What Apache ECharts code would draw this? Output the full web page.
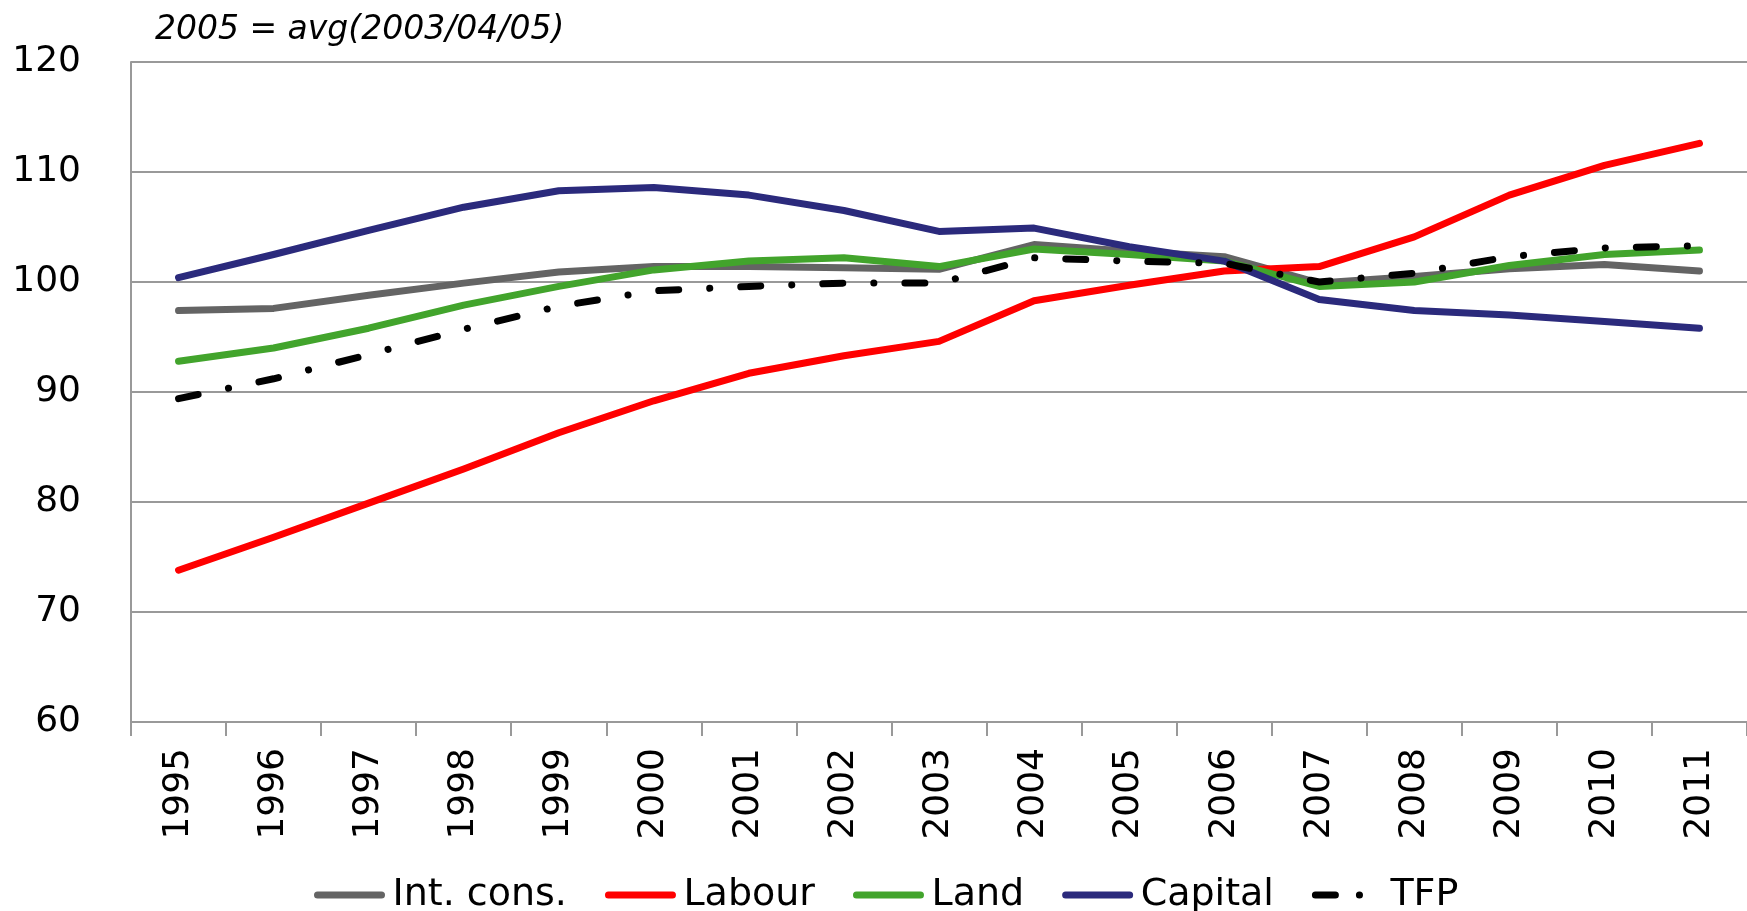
<!DOCTYPE html>
<html>
<head>
<meta charset="utf-8">
<script src="https://cdn.jsdelivr.net/npm/echarts@6/dist/echarts.min.js"></script>
<style>
  html, body { margin: 0; padding: 0; background: #fff; }
  #chart { width: 1747px; height: 911px; }
</style>
</head>
<body>
<div id="chart"></div>
<script>
// values
const years = ['1995', '1996', '1997', '1998', '1999', '2000', '2001', '2002', '2003',
  '2004', '2005', '2006', '2007', '2008', '2009', '2010', '2011'];
const intCons = [97.4, 97.6, 98.8, 99.9, 100.9, 101.4, 101.4, 101.3, 101.15, 103.4, 102.8, 102.3, 99.9, 100.5, 101.2, 101.6, 101.0];
const labour = [73.8, 76.8, 79.9, 83.0, 86.3, 89.2, 91.7, 93.3, 94.6, 98.3, 99.7, 101.0, 101.4, 104.1, 107.9, 110.6, 112.6];
const land = [92.8, 94.0, 95.8, 97.9, 99.6, 101.1, 101.9, 102.2, 101.4, 103.0, 102.5, 101.9, 99.6, 100.0, 101.5, 102.5, 102.9];
const capital = [100.4, 102.5, 104.7, 106.8, 108.3, 108.6, 107.9, 106.5, 104.6, 104.9, 103.2, 101.9, 98.4, 97.4, 97.0, 96.4, 95.8];
const tfp = [89.4, 91.2, 93.4, 95.7, 97.8, 99.2, 99.6, 99.9, 99.9, 102.2, 101.9, 101.7, 100.0, 100.8, 102.3, 103.1, 103.3];

const font = 'DejaVu Sans';
const gridGray = '#999999';
const tfpDash = [20, 31, 0.1, 31];

function line(name, data, color, extra) {
  return Object.assign({
    name: name,
    type: 'line',
    data: data,
    symbol: 'none',
    lineStyle: { color: color, width: 7, cap: 'round', join: 'round' },
    itemStyle: { color: color }
  }, extra || {});
}

const chart = echarts.init(document.getElementById('chart'));
chart.setOption({
  animation: false,
  backgroundColor: '#ffffff',
  title: {
    text: '2005 = avg(2003/04/05)',
    left: 150,
    top: 9,
    textStyle: {
      fontFamily: font,
      fontStyle: 'italic',
      fontWeight: 'normal',
      fontSize: 33,
      color: '#000'
    }
  },
  legend: {
    left: 309,
    top: 871,
    itemWidth: 64,
    itemHeight: 14,
    itemGap: 38,
    itemStyle: { opacity: 0 },
    lineStyle: { width: 7, cap: 'round' },
    textStyle: { fontFamily: font, fontSize: 38, color: '#000', padding: [0, 0, 0, 6] },
    data: [
      { name: 'Int. cons.' },
      { name: 'Labour' },
      { name: 'Land' },
      { name: 'Capital' },
      { name: 'TFP', lineStyle: { width: 7, cap: 'round', type: [20, 24, 0.1, 30] } }
    ]
  },
  grid: {
    left: 131,
    top: 62,
    right: -7,
    bottom: 189,
    containLabel: false
  },
  xAxis: {
    type: 'category',
    data: years,
    boundaryGap: true,
    axisLine: { lineStyle: { color: gridGray, width: 2 } },
    axisTick: { show: true, length: 14, lineStyle: { color: gridGray, width: 2 } },
    axisLabel: {
      rotate: 90,
      margin: 26,
      fontFamily: font,
      fontSize: 36,
      color: '#000'
    }
  },
  yAxis: {
    type: 'value',
    min: 60,
    max: 120,
    interval: 10,
    axisLine: { show: true, lineStyle: { color: gridGray, width: 2 } },
    axisTick: { show: false },
    splitLine: { lineStyle: { color: gridGray, width: 2 } },
    axisLabel: {
      margin: 50,
      fontFamily: font,
      fontSize: 36,
      color: '#000'
    }
  },
  series: [
    line('Int. cons.', intCons, '#646464'),
    line('Labour', labour, '#ff0000'),
    line('Land', land, '#42a42c'),
    line('Capital', capital, '#2b2a7c'),
    line('TFP', tfp, '#000000', {
      lineStyle: { color: '#000000', width: 7, cap: 'round', type: tfpDash }
    })
  ]
});
</script>
</body>
</html>
